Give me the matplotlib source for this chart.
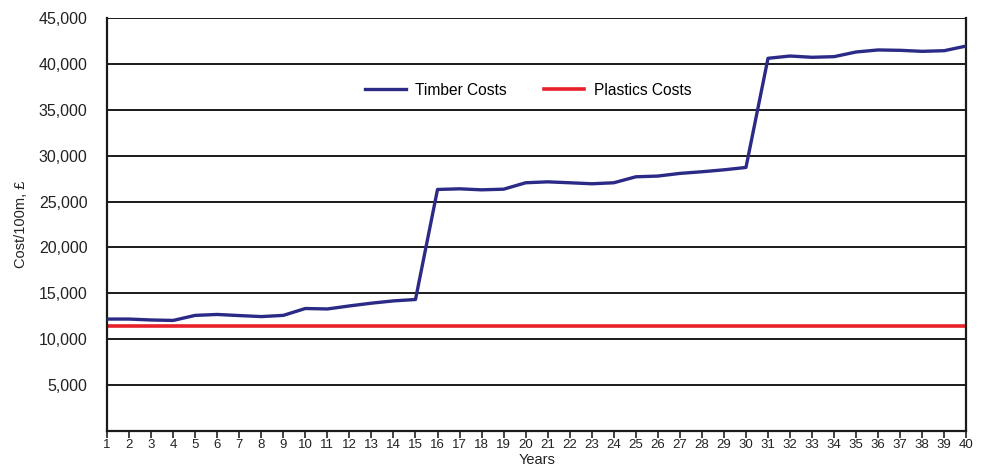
import matplotlib.pyplot as plt
from matplotlib.ticker import FuncFormatter

plt.rcParams['font.family'] = ['Liberation Sans', 'DejaVu Sans']

# --- Data ---
years = list(range(1, 41))
timber_costs = [12200, 12200, 12100, 12050, 12600, 12700, 12580, 12470, 12600, 13350,
                13300, 13630, 13930, 14180, 14330, 26320, 26390, 26280, 26350, 27050,
                27150, 27050, 26940, 27050, 27700, 27780, 28070, 28250, 28460, 28720,
                40610, 40860, 40720, 40790, 41300, 41520, 41480, 41370, 41440, 41950]
plastics_costs = [11400] * len(years)
y_ticks = [5000, 10000, 15000, 20000, 25000, 30000, 35000, 40000, 45000]

# --- Plot ---
fig = plt.figure(figsize=(9.82, 4.68), dpi=100)
ax = fig.add_axes([0.109, 0.079, 0.875, 0.8825])

for t in y_ticks:
    ax.axhline(t, color="#1a1a1a", lw=1.4, zorder=1)

ax.plot(years, timber_costs, color="#2b2a86", lw=2.4, label="Timber Costs", zorder=3)
ax.plot(years, plastics_costs, color="#e8202a", lw=2.6, label="Plastics Costs", zorder=2)

ax.set_xlim(1, 40)
ax.set_ylim(0, 45000)
ax.set_xticks(years)
ax.set_yticks(y_ticks)
ax.yaxis.set_major_formatter(FuncFormatter(lambda v, p: f"{int(v):,}"))
ax.tick_params(axis="y", length=0, labelsize=11.5, pad=14, colors="#222222")
ax.tick_params(axis="x", length=5, width=1.2, labelsize=9.5, pad=1, colors="#222222")

for side in ["left", "right", "bottom"]:
    ax.spines[side].set_linewidth(1.6)
    ax.spines[side].set_color("#1a1a1a")
ax.spines["top"].set_visible(False)

ax.set_xlabel("Years", fontsize=10.5, labelpad=1, color="#222222")
ax.set_ylabel("Cost/100m, £", fontsize=10.5, labelpad=8, color="#222222")

ax.legend(loc="center", bbox_to_anchor=(0.490, 0.825), ncol=2, frameon=False,
          fontsize=11.2, handlelength=2.6, columnspacing=2.4, handletextpad=0.6)

plt.savefig("out.png", dpi=100)
